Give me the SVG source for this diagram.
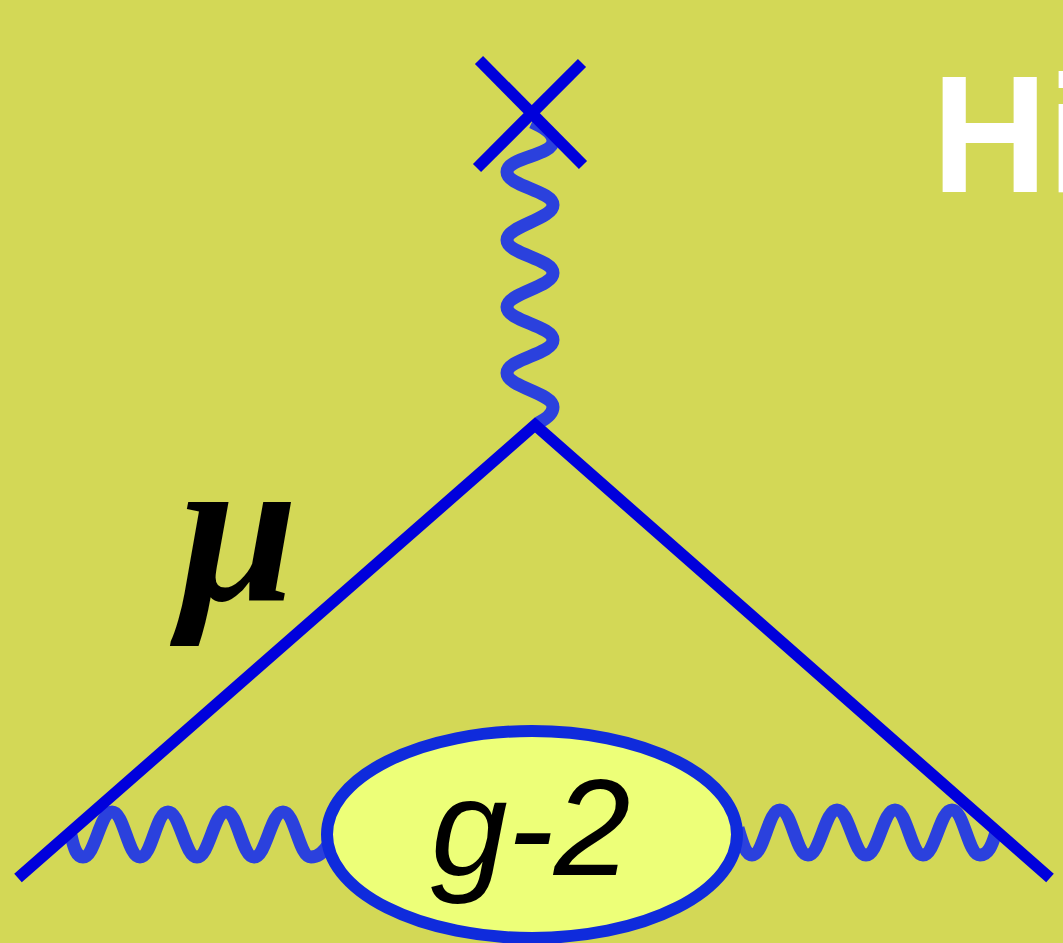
<svg xmlns="http://www.w3.org/2000/svg" width="1063" height="943" viewBox="0 0 1063 943">
<style>
.line{fill:none;stroke:#0000dc;stroke-width:11.5;stroke-linecap:butt;stroke-linejoin:miter}
.wave{fill:none;stroke:#2b41dd;stroke-width:13;stroke-linecap:butt}
text{font-family:"Liberation Sans",Arial,sans-serif}
</style>
<rect id="background" width="1063" height="943" fill="#d3d856"/>
<g id="connectors">
<path class="wave" d="M532,122 C545,128 553,134 553,141 C553,156 507,157 507,172 C507,186 553,191 553,205 C553,219 507,226 507,240 C507,254 553,259 553,273 C553,287 507,293 507,307 C507,321 553,326 553,340 C553,354 507,359 507,373 C507,387 553,393 553,407 C553,414 546,419 538,423"/>
<path class="wave" d="M71,835 C74,849 77,857 83,857 C95,857 100,812 112,812 C124,812 128,857 140,857 C152,857 156,812 168,812 C180,812 185,857 197,857 C209,857 214,812 226,812 C238,812 242,857 254,857 C266,857 271,812 283,812 C295,812 299,857 311,857 C318,857 323,853 328,845"/>
<path class="wave" d="M738,828 C743,845 746,855 752,855 C764,855 768,810 780,810 C792,810 796,855 808,855 C820,855 825,810 837,810 C849,810 854,855 866,855 C878,855 883,810 895,810 C907,810 911,855 923,855 C935,855 940,810 952,810 C964,810 968,855 980,855 C988,855 992,846 996,832"/>
<path class="line" d="M18,878 L535,425 L1050,878"/>
<path class="line" d="M479,60 L583,165"/>
<path class="line" d="M582,63 L477,168"/>
</g>
<g id="g2-node">
<ellipse cx="532" cy="834.5" rx="205" ry="103.5" fill="#edff78" stroke="#0f2bdc" stroke-width="12"/>
<text x="431" y="875" font-size="138" font-style="italic" fill="#000">g-2</text>
</g>
<g id="mu-label">
<text x="179" y="600" font-size="214" font-style="italic" font-weight="700" fill="#000" style="font-family:'Liberation Serif','Times New Roman',serif">μ</text>
</g>
<g id="title">
<text transform="translate(932,192) scale(1,1.045)" font-size="160" font-weight="700" fill="#fff">Hi</text>
</g>
</svg>
